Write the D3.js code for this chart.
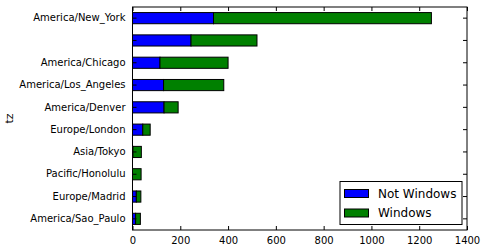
<!DOCTYPE html>
<html>
<head>
<script src="https://d3js.org/d3.v7.min.js"></script>
<style>
  body { margin: 0; background: white; }
  svg { display: block; font-family: 'DejaVu Sans', sans-serif; }
</style>
</head>
<body>
<div id="chart"></div>
<script>
// top to bottom
const zones = ["America/New_York", "", "America/Chicago", "America/Los_Angeles", "America/Denver",
               "Europe/London", "Asia/Tokyo", "Pacific/Honolulu", "Europe/Madrid", "America/Sao_Paulo"];
const notWindows = [339, 245, 115, 130, 132, 43, 2, 0, 16, 13];
const windows    = [912, 276, 285, 252, 59, 31, 35, 36, 19, 20];
const xTicks = [0, 200, 400, 600, 800, 1000, 1200, 1400];
const seriesNames = ["Not Windows", "Windows"];
const colors = ["#0000ff", "#008000"];

const w = 485, h = 251;
const mLeft = 132.5, mRight = 467, mTop = 7, mBottom = 230;

const svg = d3.select("#chart").append("svg")
    .attr("width", w)
    .attr("height", h);

const x = d3.scaleLinear().domain([0, 1400]).range([mLeft, mRight]);
const y = d3.scaleBand().domain(zones).range([mTop, mBottom]).paddingInner(0.5).paddingOuter(0.25);

// stacked bars
zones.forEach((z, i) => {
    svg.append("rect")
        .attr("x", x(0))
        .attr("y", y(z))
        .attr("width", x(notWindows[i]) - x(0))
        .attr("height", y.bandwidth())
        .attr("fill", colors[0])
        .attr("stroke", "black")
        .attr("stroke-width", 1);
    svg.append("rect")
        .attr("x", x(notWindows[i]))
        .attr("y", y(z))
        .attr("width", x(notWindows[i] + windows[i]) - x(notWindows[i]))
        .attr("height", y.bandwidth())
        .attr("fill", colors[1])
        .attr("stroke", "black")
        .attr("stroke-width", 1);
});

// frame
svg.append("rect")
    .attr("x", mLeft).attr("y", mTop)
    .attr("width", mRight - mLeft).attr("height", mBottom - mTop)
    .attr("fill", "none").attr("stroke", "black").attr("stroke-width", 1);

// x axis (bottom) with inward ticks
const xAxis = svg.append("g")
    .attr("transform", `translate(0,${mBottom})`)
    .call(d3.axisBottom(x).tickValues(xTicks).tickFormat(d3.format("d"))
        .tickSizeInner(-4).tickSizeOuter(0).tickPadding(7));
xAxis.select(".domain").remove();
xAxis.selectAll("text").attr("font-size", 10).attr("fill", "black").attr("font-family", "'DejaVu Sans', sans-serif");

// top ticks
const xTop = svg.append("g")
    .attr("transform", `translate(0,${mTop})`)
    .call(d3.axisTop(x).tickValues(xTicks).tickSizeInner(-4).tickSizeOuter(0).tickFormat(""));
xTop.select(".domain").remove();

// y axis left
const yAxis = svg.append("g")
    .attr("transform", `translate(${mLeft},0)`)
    .call(d3.axisLeft(y).tickSizeInner(-4).tickSizeOuter(0).tickPadding(7));
yAxis.select(".domain").remove();
yAxis.selectAll("text").attr("font-size", 10).attr("fill", "black").attr("font-family", "'DejaVu Sans', sans-serif");

// y ticks right
const yRight = svg.append("g")
    .attr("transform", `translate(${mRight},0)`)
    .call(d3.axisRight(y).tickSizeInner(-4).tickSizeOuter(0).tickFormat(""));
yRight.select(".domain").remove();

svg.selectAll(".tick line").attr("stroke", "black");

// y label
svg.append("text")
    .attr("transform", `translate(13,${(mTop + mBottom) / 2}) rotate(-90)`)
    .attr("text-anchor", "middle")
    .attr("font-size", 11)
    .text("tz");

// legend
const lg = svg.append("g");
lg.append("rect")
    .attr("x", 340).attr("y", 181.5)
    .attr("width", 122).attr("height", 43)
    .attr("fill", "white").attr("stroke", "black").attr("stroke-width", 1);
seriesNames.forEach((s, i) => {
    lg.append("rect")
        .attr("x", 344.5).attr("y", 189.5 + i * 19.5)
        .attr("width", 24).attr("height", 8)
        .attr("fill", colors[i]).attr("stroke", "black").attr("stroke-width", 1);
    lg.append("text")
        .attr("x", 378).attr("y", 197.5 + i * 19.5)
        .attr("font-size", 12)
        .text(s);
});
</script>
</body>
</html>
